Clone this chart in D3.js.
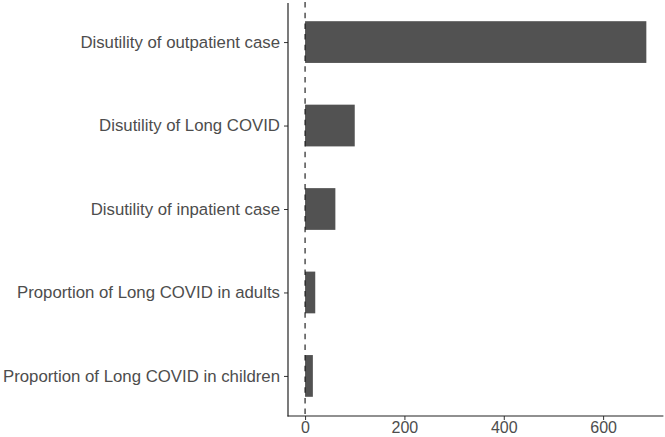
<!DOCTYPE html>
<html><head><meta charset="utf-8">
<script src="https://cdn.jsdelivr.net/npm/d3@7"></script>
<style>body{margin:0;background:#fff}</style>
</head><body>
<svg id="c" width="665" height="437"></svg>
<script>
const categories = ["Disutility of outpatient case","Disutility of Long COVID","Disutility of inpatient case","Proportion of Long COVID in adults","Proportion of Long COVID in children"];
const values = [687, 100, 61, 20.5, 15.7];
const xTicks = [0, 200, 400, 600];

const svg = d3.select("#c");
const mLeft = 288, mRight = 663.4, mTop = 2, mBottom = 416;
const x = d3.scaleLinear().domain([-34.35, 721.35]).range([mLeft, mRight]);
const y = d3.scalePoint().domain(categories).range([mTop, mBottom]).padding(0.48);
const bh = y.step() * 0.5;
const font = "Liberation Sans, Arial, sans-serif";

svg.append("g").selectAll("rect").data(categories).join("rect")
  .attr("x", x(0)).attr("y", d => y(d) - bh/2)
  .attr("width", (d,i) => x(values[i]) - x(0)).attr("height", bh)
  .attr("fill", "#525252");

svg.append("line").attr("x1", x(0)).attr("x2", x(0)).attr("y1", mTop).attr("y2", mBottom)
  .attr("stroke", "#111").attr("stroke-width", 1.1).attr("stroke-dasharray", "5.5,5.2");

const gx = svg.append("g").attr("transform", `translate(0,${mBottom})`)
  .call(d3.axisBottom(x).tickValues(xTicks).tickSize(4).tickPadding(2).tickFormat(d3.format("d")));
const gy = svg.append("g").attr("transform", `translate(${mLeft},0)`)
  .call(d3.axisLeft(y).tickSize(4).tickPadding(4));
[gx, gy].forEach(g => {
  g.select(".domain").remove();
  g.selectAll(".tick line").attr("stroke", "#333").attr("stroke-width", 1);
  g.selectAll(".tick text").attr("fill", "#4d4d4d").style("font-family", font).style("font-size", "16.8px");
});
gx.selectAll(".tick text").style("font-size", "16px");
svg.append("line").attr("x1", mLeft).attr("x2", mLeft).attr("y1", 3).attr("y2", mBottom + 0.5).attr("stroke", "#222").attr("stroke-width", 1.2);
svg.append("line").attr("x1", mLeft - 0.5).attr("x2", mRight).attr("y1", mBottom).attr("y2", mBottom).attr("stroke", "#222").attr("stroke-width", 1.2);
</script>
</body></html>
